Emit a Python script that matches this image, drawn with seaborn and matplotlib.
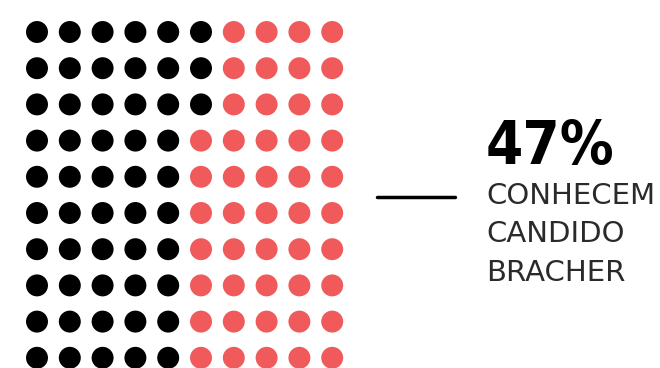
import seaborn as sns
import matplotlib.pyplot as plt
import pandas as pd
from matplotlib.lines import Line2D

# dados: 100 pontos, 47 conhecem (vermelho)
n_cols = 10
n_rows = 10
dark_per_row = [6, 6, 6, 5, 5, 5, 5, 5, 5, 5]
pct_label = '47%'
caption = ['CONHECEM', 'CANDIDO', 'BRACHER']

rows = []
for r in range(n_rows):
    for c in range(n_cols):
        rows.append({'col': c, 'row': r,
                     'grupo': 'nao' if c < dark_per_row[r] else 'conhece'})
df = pd.DataFrame(rows)

sns.set_style('white')
W, H = 660, 368
fig = plt.figure(figsize=(W / 100, H / 100), dpi=100)
ax = fig.add_axes([0, 0, 1, 1])

sns.scatterplot(data=df, x='col', y='row', hue='grupo',
                palette={'nao': '#000000', 'conhece': '#F05A5A'},
                s=250, linewidth=0, legend=False, ax=ax)

# grade em pixels: coluna 0 em x=37, passo 32.8; linha 0 em y=32, passo 36.2
dx, dy = 32.8, 36.2
ax.set_xlim(-37 / dx, (W - 37) / dx)
ax.set_ylim((H - 32) / dy, -32 / dy)
ax.axis('off')

fig.add_artist(Line2D([377 / W, 455 / W], [1 - 197 / H, 1 - 197 / H],
                      color='black', linewidth=2.5))

fig.text(486 / W, 1 - 164 / H, pct_label, fontsize=43, fontweight='bold',
         fontstretch='condensed', family='DejaVu Sans',
         color='black', va='baseline', ha='left')
for i, line in enumerate(caption):
    fig.text(486 / W, 1 - (204 + 38.5 * i) / H, line, fontsize=21,
             family='DejaVu Sans', color='#2a2a2a', va='baseline', ha='left')

fig.savefig('out.png', dpi=100)
